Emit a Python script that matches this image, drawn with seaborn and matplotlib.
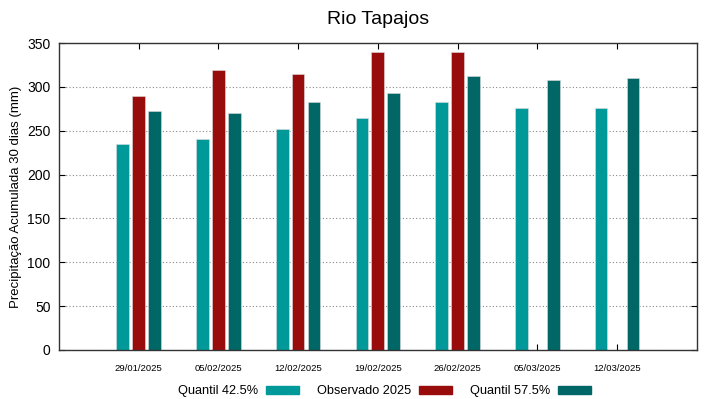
import matplotlib
matplotlib.use('Agg')
import matplotlib.pyplot as plt
import seaborn as sns
import pandas as pd
import numpy as np
from matplotlib.patches import Patch

# data
datas = ['29/01/2025', '05/02/2025', '12/02/2025', '19/02/2025',
         '26/02/2025', '05/03/2025', '12/03/2025']
quantil_425 = [235, 241, 252, 265, 283, 276, 276]
observado_2025 = [290, 319, 315, 340, 340, np.nan, np.nan]
quantil_575 = [273, 270, 283, 293, 313, 308, 310]

series = ['Quantil 42.5%', 'Observado 2025', 'Quantil 57.5%']
cores = ['#009999', '#990c0c', '#006666']

df = pd.DataFrame({'data': datas * 3,
                   'valor': quantil_425 + observado_2025 + quantil_575,
                   'serie': sum([[s] * len(datas) for s in series], [])})

sns.set_style('white')
plt.rcParams['font.family'] = ['Liberation Sans', 'DejaVu Sans']
plt.rcParams['text.color'] = 'black'
plt.rcParams['xtick.color'] = 'black'
plt.rcParams['ytick.color'] = 'black'
plt.rcParams['axes.labelcolor'] = 'black'

fig = plt.figure(figsize=(7.19, 3.99), dpi=100)
ax = fig.add_axes([0.082, 0.123, 0.887, 0.769])

sns.barplot(data=df, x='data', y='valor', hue='serie', hue_order=series,
            palette=cores, width=0.6, gap=0.2, ax=ax, legend=False,
            edgecolor='#dddddd', linewidth=0.4, saturation=1)

ax.set_xlim(-1, 7)
ax.set_ylim(0, 350)
ax.set_yticks(range(0, 351, 50))
ax.yaxis.grid(True, linestyle=(0, (1, 2)), color='#888888', linewidth=0.8)
ax.set_axisbelow(True)
ax.tick_params(axis='x', labelsize=6.8, direction='in', top=True, bottom=True, length=4, pad=10)
ax.tick_params(axis='y', labelsize=10, direction='in', left=True, right=True, length=4, pad=6)
for s in ax.spines.values():
    s.set_color('#333333')
    s.set_linewidth(1)

ax.set_xlabel('')
ax.set_ylabel('Precipitação Acumulada 30 dias (mm)', fontsize=9.5)
ax.set_title('Rio Tapajos', fontsize=14, pad=14)

handles = [Patch(facecolor=c, edgecolor=c) for c in cores]
fig.legend(handles, series, loc='lower center', bbox_to_anchor=(0.535, -0.025),
           ncol=3, frameon=False, markerfirst=False, fontsize=9.2,
           handlelength=2.6, handleheight=0.5, columnspacing=1.4, handletextpad=0.6)

fig.savefig('out.png', dpi=100)
